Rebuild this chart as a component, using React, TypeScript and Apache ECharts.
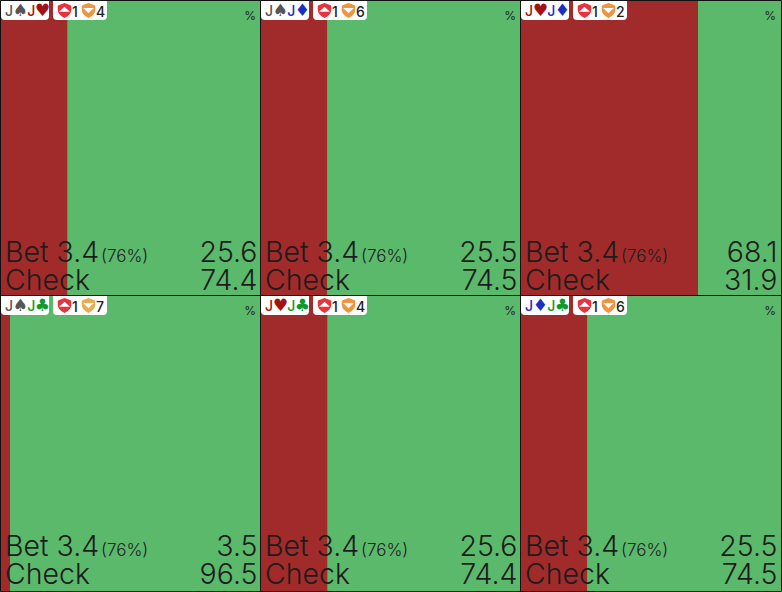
import React, { useEffect, useRef } from "react";
import * as echarts from "echarts";

const cardRanks = [["J", "J"], ["J", "J"], ["J", "J"], ["J", "J"], ["J", "J"], ["J", "J"]];
const cardSuits = [["s", "h"], ["s", "d"], ["h", "d"], ["s", "c"], ["h", "c"], ["d", "c"]];
const leftBadge = [1, 1, 1, 1, 1, 1];
const rightBadge = [4, 6, 2, 7, 4, 6];
const rightBadgeColors = ["#f0953f", "#f0953f", "#f0953f", "#e8ad52", "#f0953f", "#f0953f"];
const betValues = [25.6, 25.5, 68.1, 3.5, 25.6, 25.5];
const checkValues = [74.4, 74.5, 31.9, 96.5, 74.4, 74.5];
const betLabel = "Bet 3.4";
const betPct = "(76%)";
const checkLabel = "Check";
const unit = "%";

const suitGlyph: Record<string, string> = { s: "♠", h: "♥", d: "♦", c: "♣" };
const FONT = "Inter, 'Noto Sans', sans-serif";

const shieldUp = "M10 0 L18 3 Q19 3.4 19 4.5 L19 9 Q19 16 10 20 Q1 16 1 9 L1 4.5 Q1 3.4 2 3 Z M10 5 L2.8 11.5 L17.2 11.5 Z";
const shieldDown = "M10 0 L18 3 Q19 3.4 19 4.5 L19 9 Q19 16 10 20 Q1 16 1 9 L1 4.5 Q1 3.4 2 3 Z M2.8 6.5 L10 13.5 L17.2 6.5 Z";
echarts.graphic.registerShape("shieldUpIcon", echarts.graphic.extendPath(shieldUp, {}) as any);
echarts.graphic.registerShape("shieldDownIcon", echarts.graphic.extendPath(shieldDown, {}) as any);

const PW = 260;
const PH = 295;
const GREEN = "#5bb96c";

function panelOrigin(i: number) {
  return { x: (i % 3) * PW, y: Math.floor(i / 3) * PH };
}

export default function App() {
  const ref = useRef<HTMLDivElement>(null);
  useEffect(() => {
    document.body.style.margin = "0";
    const chart = echarts.init(ref.current!, undefined, { renderer: "svg" });
    const idx = betValues.map((_, i) => i);
    const graphic: any[] = [];
    const rich: any = {};
    const suitColor: Record<string, string> = { s: "#555", h: "#a31212", d: "#1a2fc4", c: "#109a2a" };
    Object.keys(suitColor).forEach((k) => {
      rich["r" + k] = { fill: suitColor[k], font: `500 14px ${FONT}`, width: 8.5, lineHeight: 18 };
      rich["s" + k] = { fill: suitColor[k], font: `17px 'DejaVu Sans'`, width: 13.5, align: "center", lineHeight: 18 };
    });
    idx.forEach((i) => {
      const { x, y } = panelOrigin(i);
      const w = i % 3 === 2 ? PW + 1 : PW;
      const h = i >= 3 ? PH + 1 : PH;
      const [r1, r2] = cardRanks[i];
      const [s1, s2] = cardSuits[i];
      const dy = i >= 3 ? -0.5 : 0.5;
      graphic.push(
        { type: "rect", z: 10, shape: { x: x + 1, y: y + 1, width: 48, height: 19, r: [0, 0, 4, 4] }, style: { fill: "#fff" } },
        { type: "rect", z: 10, shape: { x: x + 53, y: y + 1, width: 54, height: 19, r: [0, 0, 4, 4] }, style: { fill: "#fff" } },
        {
          type: "text", z: 11, x: x + 5, y: y + 1,
          style: {
            text: `{r${s1}|${r1}}{s${s1}|${suitGlyph[s1]}}{r${s2}|${r2}}{s${s2}|${suitGlyph[s2]}}`,
            font: `500 14px ${FONT}`,
            rich,
          },
        },
        { type: "shieldUpIcon", z: 11, x: x + 57, y: y + 3, scaleX: 0.75, scaleY: 0.75, style: { fill: "#e8323c" } },
        { type: "text", z: 11, x: x + 72, y: y + 4, style: { text: String(leftBadge[i]), font: `500 14px ${FONT}`, fill: "#222" } },
        { type: "shieldDownIcon", z: 11, x: x + 81, y: y + 3, scaleX: 0.75, scaleY: 0.75, style: { fill: rightBadgeColors[i] } },
        { type: "text", z: 11, x: x + 96, y: y + 4, style: { text: String(rightBadge[i]), font: `500 14px ${FONT}`, fill: "#222" } },
        { type: "text", z: 11, x: x + 256, y: y + 9, style: { text: unit, font: `12px ${FONT}`, fill: "#222", align: "right" } },
        { type: "text", z: 11, x: x + 5, y: y + 236 + dy, style: { text: betLabel, font: `300 28.5px ${FONT}`, fill: "#1c1c1c" } },
        { type: "text", z: 11, x: x + 101, y: y + 247 + dy, style: { text: betPct, font: `300 17px ${FONT}`, fill: "#1c1c1c" } },
        { type: "text", z: 11, x: x + 5, y: y + 264 + dy, style: { text: checkLabel, font: `300 28.5px ${FONT}`, fill: "#1c1c1c" } },
        { type: "text", z: 11, x: x + 257.5, y: y + 236 + dy, style: { text: betValues[i].toFixed(1), font: `300 28.5px ${FONT}`, fill: "#1c1c1c", align: "right" } },
        { type: "text", z: 11, x: x + 257.5, y: y + 264 + dy, style: { text: checkValues[i].toFixed(1), font: `300 28.5px ${FONT}`, fill: "#1c1c1c", align: "right" } },
        { type: "rect", z: 12, shape: { x: x + 0.5, y: y + 0.5, width: w, height: h }, style: { fill: "none", stroke: "#111", lineWidth: 1 } },
      );
    });

    chart.setOption({
      animation: false,
      backgroundColor: GREEN,
      grid: idx.map((i) => {
        const { x, y } = panelOrigin(i);
        return { left: x + 1, top: y + 1, width: PW, height: i >= 3 ? PH : PH - 1 };
      }),
      xAxis: idx.map((i) => ({ type: "value", gridIndex: i, min: 0, max: 100, show: false })),
      yAxis: idx.map((i) => ({ type: "category", gridIndex: i, data: ["hand"], show: false })),
      series: idx.flatMap((i) => [
        { type: "bar", xAxisIndex: i, yAxisIndex: i, stack: "s" + i, barWidth: "100%", data: [betValues[i]], itemStyle: { color: "#a12a2a" }, silent: true },
        { type: "bar", xAxisIndex: i, yAxisIndex: i, stack: "s" + i, barWidth: "100%", data: [checkValues[i]], itemStyle: { color: GREEN }, silent: true },
      ]),
      graphic,
    });
    return () => chart.dispose();
  }, []);
  return <div ref={ref} style={{ width: 782, height: 592 }} />;
}
